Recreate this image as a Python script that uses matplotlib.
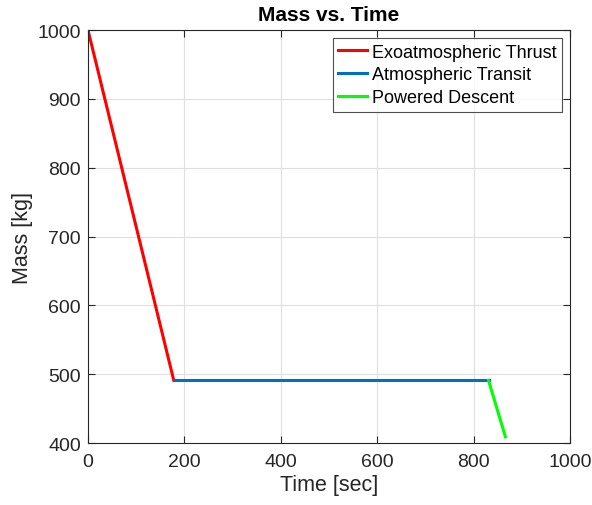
import matplotlib
matplotlib.use("Agg")
import matplotlib.pyplot as plt

plt.rcParams['font.family'] = ['Liberation Sans', 'DejaVu Sans']

exo_t = [0, 178]
exo_m = [1000, 491]
atm_t = [178, 831]
atm_m = [491, 491]
pd_t = [831, 866]
pd_m = [491, 409]

xticks = [0, 200, 400, 600, 800, 1000]
yticks = [400, 500, 600, 700, 800, 900, 1000]

fig = plt.figure(figsize=(5.92, 5.06), dpi=100)
ax = fig.add_axes([0.1486, 0.1225, 0.8142, 0.8162])

ax.plot(exo_t, exo_m, color='#ff0000', lw=2.2, label='Exoatmospheric Thrust')
ax.plot(atm_t, atm_m, color='#0072bd', lw=2.2, label='Atmospheric Transit')
ax.plot(pd_t, pd_m, color='#00ff00', lw=2.2, label='Powered Descent')

ax.set_xlim(0, 1000)
ax.set_ylim(400, 1000)
ax.set_xticks(xticks)
ax.set_yticks(yticks)
ax.grid(True, color='#dfdfdf', lw=0.8)
ax.set_axisbelow(True)
ax.tick_params(direction='in', top=True, right=True, labelsize=14, colors='#262626', length=5)
ax.tick_params(axis='x', pad=7)
ax.tick_params(axis='y', pad=5)
for s in ax.spines.values():
    s.set_color('#262626')
    s.set_linewidth(0.8)

ax.set_xlabel('Time [sec]', fontsize=15.5, color='#262626', labelpad=3)
ax.set_ylabel('Mass [kg]', fontsize=15.5, color='#262626', labelpad=3.5)
ax.set_title('Mass vs. Time', fontsize=15, fontweight='bold', pad=7)

leg = ax.legend(loc='upper right', fontsize=13, frameon=True, fancybox=False,
                edgecolor='#262626', handlelength=1.6, handletextpad=0.25,
                borderaxespad=0.45, borderpad=0.3, labelspacing=0.32)
leg.get_frame().set_linewidth(0.8)

fig.savefig('out.png', dpi=100)
